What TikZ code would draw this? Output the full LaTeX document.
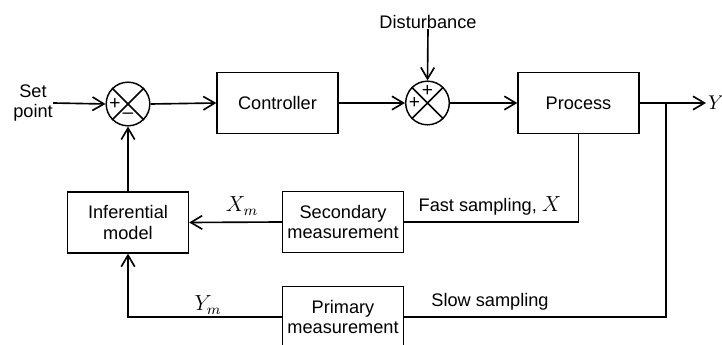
\documentclass[tikz,border=0pt]{standalone}
\usepackage{fontspec}
\setmainfont{Liberation Sans}
\usetikzlibrary{arrows.meta, calc}
\tikzset{
    blkbox/.style={draw, line width=0.8pt, minimum width=66.5pt, minimum height=33.5pt, align=center, inner sep=1pt, font=\fontsize{10}{11.5}\selectfont},
    sumjn/.style={draw, circle, line width=0.8pt, minimum size=24pt, inner sep=0pt},
    sigarrow/.style={-{Straight Barb[length=2.2mm, width=2.6mm]}, line width=0.9pt},
    sigline/.style={line width=0.9pt},
    siglbl/.style={font=\fontsize{10}{11.5}\selectfont, align=center, inner sep=0pt},
    mathlbl/.style={font=\fontsize{12}{14}\selectfont, inner sep=0pt},
    sgn/.style={font=\fontsize{10.5}{10.5}\selectfont, inner sep=0pt},
}

\begin{document}
\begin{tikzpicture}[x=0.55pt, y=-0.55pt]
        \clip (0,0) rectangle (722,345);
        \node[siglbl] (setpt) at (33,103) {Set\\ point};
        \node[sumjn] (s1) at (128,104) {};
        \node[blkbox] (ctrl) at (277.5,103) {Controller};
        \node[sumjn] (s2) at (427.5,103) {};
        \node[siglbl] (dist) at (428,22) {Disturbance};
        \node[blkbox] (proc) at (578.5,103) {Process};
        \node[mathlbl, font=\fontsize{11}{13}\selectfont, anchor=west, inner sep=1pt] (yout) at (706,103) {$Y$};
        \coordinate (branch) at (666,103);
        \node[blkbox] (inf) at (128,222.5) {Inferential\\ model};
        \node[blkbox] (sec) at (343,222) {Secondary\\ measurement};
        \node[blkbox] (prim) at (343,317) {Primary\\ measurement};
        \draw[line width=0.8pt] (s1.north west) -- (s1.south east) (s1.north east) -- (s1.south west);
        \draw[line width=0.8pt] (s2.north west) -- (s2.south east) (s2.north east) -- (s2.south west);
        \node[sgn] (s1p) at ($(s1)+(-13,0)$) {+};
        \node[sgn] (s1m) at ($(s1)+(0,12)$) {–};
        \node[sgn] (s2p) at ($(s2)+(-13,0)$) {+};
        \node[sgn] (s2q) at ($(s2)+(0,-12)$) {+};
        \draw[sigarrow] (setpt.east) -- (s1.west);
        \draw[sigarrow] (s1.east) -- (ctrl.west);
        \draw[sigarrow] (ctrl.east) -- (s2.west);
        \draw[sigarrow] (dist.south) -- (s2.north);
        \draw[sigarrow] (s2.east) -- (proc.west);
        \draw[sigarrow] (proc.east) -- (yout.west);
        \draw[sigline] (proc.south) |- (sec.east);
        \draw[sigline] (branch) |- (prim.east);
        \draw[sigarrow] (sec.west) -- (inf.east);
        \draw[sigarrow] (prim.west) -| (inf.south);
        \draw[sigarrow] (inf.north) -- (s1.south);
        \node[siglbl] (fastlbl) at (490,206) {Fast sampling, \fontsize{12}{14}\selectfont$X$};
        \node[siglbl] (slowlbl) at (490,302) {Slow sampling};
        \node[mathlbl] (xmlbl) at (242,206) {$X_m$};
        \node[mathlbl] (ymlbl) at (208,305) {$Y_m$};
    \end{tikzpicture}
\end{document}
